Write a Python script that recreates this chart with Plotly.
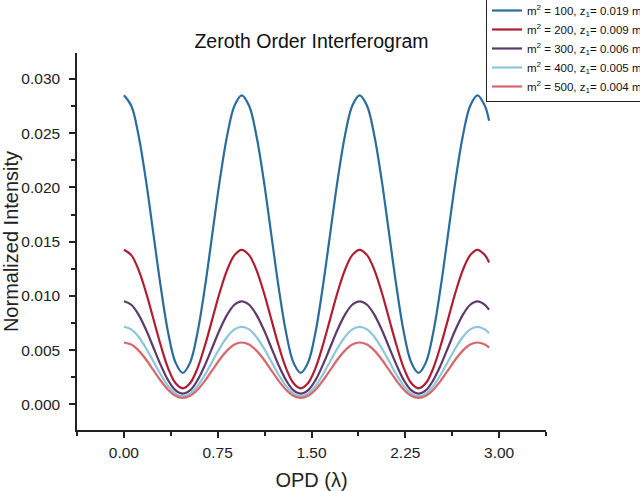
import plotly.graph_objects as go

opd = [0.000, 0.059, 0.118, 0.177, 0.236, 0.295, 0.353, 0.412, 0.471, 0.530,
       0.589, 0.648, 0.707, 0.766, 0.825, 0.884, 0.942, 1.001, 1.060, 1.119,
       1.178, 1.237, 1.296, 1.355, 1.414, 1.473, 1.532, 1.590, 1.649, 1.708,
       1.767, 1.826, 1.885, 1.944, 2.003, 2.062, 2.121, 2.180, 2.238, 2.297,
       2.356, 2.415, 2.474, 2.533, 2.592, 2.651, 2.710, 2.769, 2.827, 2.886, 2.920]

m100 = [0.02850, 0.02753, 0.02475, 0.02060, 0.01570, 0.01080, 0.00665, 0.00387,
        0.00290, 0.00387, 0.00665, 0.01080, 0.01570, 0.02060, 0.02475, 0.02753,
        0.02850, 0.02753, 0.02475, 0.02060, 0.01570, 0.01080, 0.00665, 0.00387,
        0.00290, 0.00387, 0.00665, 0.01080, 0.01570, 0.02060, 0.02475, 0.02753,
        0.02850, 0.02753, 0.02475, 0.02060, 0.01570, 0.01080, 0.00665, 0.00387,
        0.00290, 0.00387, 0.00665, 0.01080, 0.01570, 0.02060, 0.02475, 0.02753,
        0.02850, 0.02753, 0.02616]

m200 = [0.01425, 0.01376, 0.01238, 0.01031, 0.00786, 0.00542, 0.00334, 0.00196,
        0.00147, 0.00196, 0.00334, 0.00542, 0.00786, 0.01031, 0.01238, 0.01376,
        0.01425, 0.01376, 0.01238, 0.01031, 0.00786, 0.00542, 0.00334, 0.00196,
        0.00147, 0.00196, 0.00334, 0.00542, 0.00786, 0.01031, 0.01238, 0.01376,
        0.01425, 0.01376, 0.01238, 0.01031, 0.00786, 0.00542, 0.00334, 0.00196,
        0.00147, 0.00196, 0.00334, 0.00542, 0.00786, 0.01031, 0.01238, 0.01376,
        0.01425, 0.01376, 0.01308]

m300 = [0.00950, 0.00918, 0.00825, 0.00687, 0.00524, 0.00361, 0.00223, 0.00130,
        0.00098, 0.00130, 0.00223, 0.00361, 0.00524, 0.00687, 0.00825, 0.00918,
        0.00950, 0.00918, 0.00825, 0.00687, 0.00524, 0.00361, 0.00223, 0.00130,
        0.00098, 0.00130, 0.00223, 0.00361, 0.00524, 0.00687, 0.00825, 0.00918,
        0.00950, 0.00918, 0.00825, 0.00687, 0.00524, 0.00361, 0.00223, 0.00130,
        0.00098, 0.00130, 0.00223, 0.00361, 0.00524, 0.00687, 0.00825, 0.00918,
        0.00950, 0.00918, 0.00872]

m400 = [0.00715, 0.00691, 0.00621, 0.00517, 0.00395, 0.00273, 0.00169, 0.00099,
        0.00075, 0.00099, 0.00169, 0.00273, 0.00395, 0.00517, 0.00621, 0.00691,
        0.00715, 0.00691, 0.00621, 0.00517, 0.00395, 0.00273, 0.00169, 0.00099,
        0.00075, 0.00099, 0.00169, 0.00273, 0.00395, 0.00517, 0.00621, 0.00691,
        0.00715, 0.00691, 0.00621, 0.00517, 0.00395, 0.00273, 0.00169, 0.00099,
        0.00075, 0.00099, 0.00169, 0.00273, 0.00395, 0.00517, 0.00621, 0.00691,
        0.00715, 0.00691, 0.00656]

m500 = [0.00570, 0.00551, 0.00495, 0.00413, 0.00315, 0.00217, 0.00135, 0.00079,
        0.00060, 0.00079, 0.00135, 0.00217, 0.00315, 0.00413, 0.00495, 0.00551,
        0.00570, 0.00551, 0.00495, 0.00413, 0.00315, 0.00217, 0.00135, 0.00079,
        0.00060, 0.00079, 0.00135, 0.00217, 0.00315, 0.00413, 0.00495, 0.00551,
        0.00570, 0.00551, 0.00495, 0.00413, 0.00315, 0.00217, 0.00135, 0.00079,
        0.00060, 0.00079, 0.00135, 0.00217, 0.00315, 0.00413, 0.00495, 0.00551,
        0.00570, 0.00551, 0.00523]

series_names = [
    "m<sup>2</sup> = 100, z<sub>1</sub>= 0.019 m",
    "m<sup>2</sup> = 200, z<sub>1</sub>= 0.009 m",
    "m<sup>2</sup> = 300, z<sub>1</sub>= 0.006 m",
    "m<sup>2</sup> = 400, z<sub>1</sub>= 0.005 m",
    "m<sup>2</sup> = 500, z<sub>1</sub>= 0.004 m",
]
series_values = [m100, m200, m300, m400, m500]
colors = ["#2a6c9c", "#b01c30", "#5c3a6c", "#8cc6dc", "#d8676a"]

x_ticks = [0.00, 0.75, 1.50, 2.25, 3.00]
x_ticklabels = ["0.00", "0.75", "1.50", "2.25", "3.00"]
y_ticks = [0.000, 0.005, 0.010, 0.015, 0.020, 0.025, 0.030]
y_ticklabels = ["0.000", "0.005", "0.010", "0.015", "0.020", "0.025", "0.030"]

FONT = "Arial, Liberation Sans, sans-serif"

fig = go.Figure()
for name, vals, col in zip(series_names, series_values, colors):
    fig.add_trace(go.Scatter(
        x=opd, y=vals, mode="lines", name=name,
        line=dict(color=col, width=2.2, shape="spline", smoothing=1.0),
    ))

axis_common = dict(
    showline=True, linecolor="#222222", linewidth=1.5,
    ticks="outside", ticklen=6, tickwidth=1.5, tickcolor="#222222",
    showgrid=False, zeroline=False, mirror=False,
    tickfont=dict(family=FONT, size=15.5, color="#222222"),
)

fig.update_layout(
    width=640, height=491,
    margin=dict(l=77, r=94, t=53, b=61, autoexpand=False),
    paper_bgcolor="white", plot_bgcolor="white",
    font=dict(family=FONT, color="#222222"),
    title=dict(text="Zeroth Order Interferogram", x=(311.5 / 640), xanchor="center",
               y=1 - 41 / 491, yanchor="middle",
               font=dict(family=FONT, size=19.5, color="#111111")),
    xaxis=dict(range=[-0.375, 3.375], tickvals=x_ticks, ticktext=x_ticklabels,
               minor=dict(dtick=0.375, tick0=0, ticks="outside", ticklen=4,
                          tickwidth=1.5, tickcolor="#222222"),
               title=dict(text="OPD (\u03bb)", font=dict(family=FONT, size=20, color="#222222"),
                          standoff=14),
               ticklabelstandoff=2,
               **axis_common),
    yaxis=dict(range=[-0.00237, 0.0324], tickvals=y_ticks, ticktext=y_ticklabels,
               minor=dict(dtick=0.0025, tick0=0, ticks="outside", ticklen=4,
                          tickwidth=1.5, tickcolor="#222222"),
               title=dict(text="Normalized Intensity", font=dict(family=FONT, size=20, color="#222222"),
                          standoff=8),
               ticklabelstandoff=6,
               **axis_common),
    legend=dict(x=(486 - 77) / 469, xanchor="left", y=(430 + 5) / 377, yanchor="top",
                bgcolor="white", bordercolor="#222222", borderwidth=1,
                font=dict(family=FONT, size=11.5, color="#111111"),
                tracegroupgap=0, itemwidth=30),
    showlegend=True,
)

fig.write_html("out.html")
